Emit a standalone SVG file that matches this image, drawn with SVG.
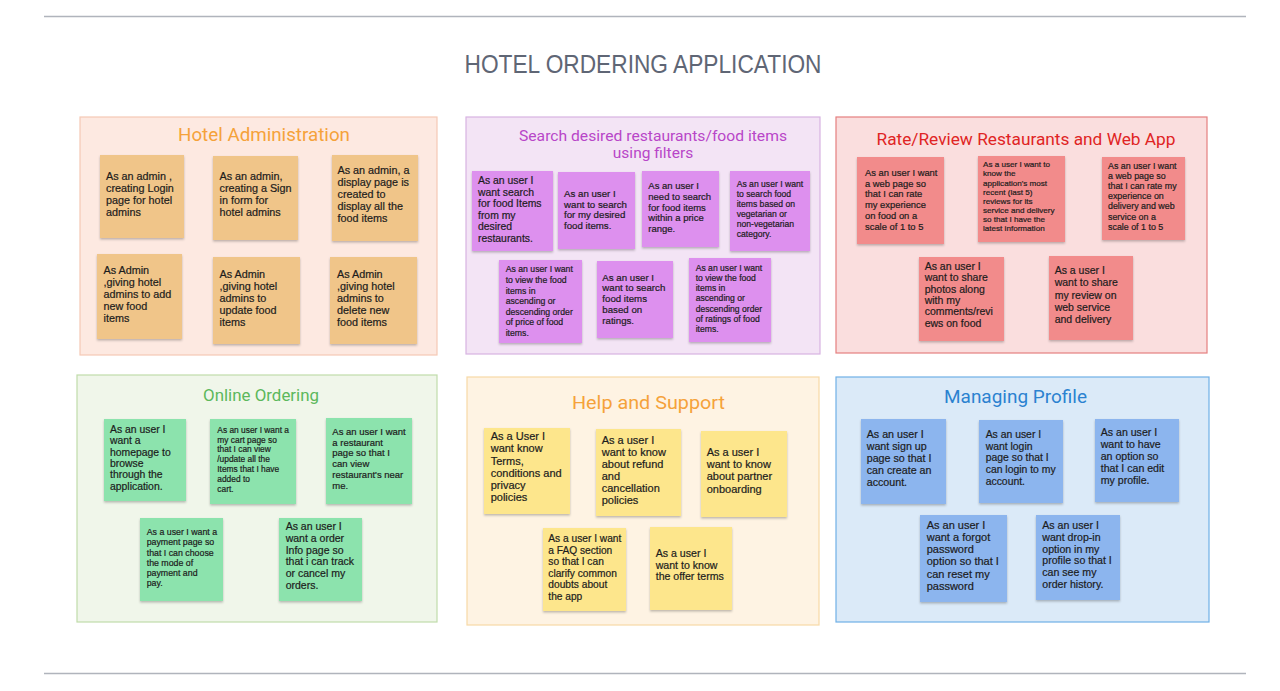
<svg xmlns="http://www.w3.org/2000/svg" width="1280" height="691" viewBox="0 0 1280 691">
<defs>
<filter id="sh" x="-10%" y="-10%" width="120%" height="125%">
<feDropShadow dx="0" dy="1.5" stdDeviation="1" flood-color="#000" flood-opacity="0.25"/>
</filter>
<style>
.pt{font-family:Roboto,"Liberation Sans",sans-serif;text-anchor:middle}
.nt{font-family:"Liberation Sans",Arial,sans-serif;fill:#1c1c1c;stroke:#1c1c1c;stroke-width:0.2}
.n1{fill:#f0c589;filter:url(#sh)}
.n2{fill:#dd90ee;filter:url(#sh)}
.n3{fill:#f28b8b;filter:url(#sh)}
.n4{fill:#8ce3ad;filter:url(#sh)}
.n5{fill:#fde68c;filter:url(#sh)}
.n6{fill:#8cb5ee;filter:url(#sh)}
</style>
</defs>
<rect width="1280" height="691" fill="#ffffff"/>
<line x1="44" y1="16.5" x2="1246" y2="16.5" stroke="#b0b4bc" stroke-width="1.5"/>
<line x1="44" y1="673.5" x2="1246" y2="673.5" stroke="#b0b4bc" stroke-width="1.5"/>
<text x="643" y="73" font-family="'Liberation Sans',Arial,sans-serif" font-size="25" fill="#5f6675" text-anchor="middle" textLength="357" lengthAdjust="spacingAndGlyphs">HOTEL ORDERING APPLICATION</text>

<!-- Panel 1 -->
<g id="panel-hotel-admin">
<rect x="80" y="117" width="357" height="238" fill="#fde9e1" stroke="#f5c9b5" stroke-width="1.2"/>
<text class="pt" x="264" y="141" font-size="17.5" fill="#f5a23a" textLength="172" lengthAdjust="spacingAndGlyphs">Hotel Administration</text>
</g>
<g id="ha-1"><rect class="n1" x="100" y="155" width="84" height="83"/>
<text class="nt" font-size="10.8"><tspan x="106" y="180">As an admin ,</tspan><tspan x="106" dy="12">creating Login</tspan><tspan x="106" dy="12">page for hotel</tspan><tspan x="106" dy="12">admins</tspan></text></g>
<g id="ha-2"><rect class="n1" x="213" y="156" width="85" height="84"/>
<text class="nt" font-size="10.8"><tspan x="219.5" y="180">As an admin,</tspan><tspan x="219.5" dy="12">creating a Sign</tspan><tspan x="219.5" dy="12">in form for</tspan><tspan x="219.5" dy="12">hotel admins</tspan></text></g>
<g id="ha-3"><rect class="n1" x="332" y="155" width="86" height="86"/>
<text class="nt" font-size="10.8"><tspan x="337.5" y="174">As an admin, a</tspan><tspan x="337.5" dy="12">display page is</tspan><tspan x="337.5" dy="12">created to</tspan><tspan x="337.5" dy="12">display all the</tspan><tspan x="337.5" dy="12">food items</tspan></text></g>
<g id="ha-4"><rect class="n1" x="97" y="254" width="85" height="85"/>
<text class="nt" font-size="10.8"><tspan x="103.5" y="273.5">As Admin</tspan><tspan x="103.5" dy="12">,giving hotel</tspan><tspan x="103.5" dy="12">admins to add</tspan><tspan x="103.5" dy="12">new food</tspan><tspan x="103.5" dy="12">items</tspan></text></g>
<g id="ha-5"><rect class="n1" x="213" y="257" width="87" height="87"/>
<text class="nt" font-size="10.8"><tspan x="219.5" y="277.5">As Admin</tspan><tspan x="219.5" dy="12">,giving hotel</tspan><tspan x="219.5" dy="12">admins to</tspan><tspan x="219.5" dy="12">update  food</tspan><tspan x="219.5" dy="12">items</tspan></text></g>
<g id="ha-6"><rect class="n1" x="330" y="257" width="87" height="87"/>
<text class="nt" font-size="10.8"><tspan x="337" y="277.5">As Admin</tspan><tspan x="337" dy="12">,giving hotel</tspan><tspan x="337" dy="12">admins to</tspan><tspan x="337" dy="12">delete new</tspan><tspan x="337" dy="12">food items</tspan></text></g>

<!-- Panel 2 -->
<g id="panel-search">
<rect x="466" y="117" width="354" height="237" fill="#f3e4f5" stroke="#d8b3e2" stroke-width="1.2"/>
<text class="pt" font-size="15.5" fill="#b846c8"><tspan x="653" y="141" textLength="268" lengthAdjust="spacingAndGlyphs">Search desired restaurants/food items</tspan><tspan x="653" y="158">using filters</tspan></text>
</g>
<g id="sr-1"><rect class="n2" x="472" y="171" width="81" height="80"/>
<text class="nt" font-size="10.4"><tspan x="478" y="184">As an user I</tspan><tspan x="478" dy="11.5">want search</tspan><tspan x="478" dy="11.5">for food Items</tspan><tspan x="478" dy="11.5">from my</tspan><tspan x="478" dy="11.5">desired</tspan><tspan x="478" dy="11.5">restaurants.</tspan></text></g>
<g id="sr-2"><rect class="n2" x="558" y="172" width="77" height="77"/>
<text class="nt" font-size="9.7"><tspan x="564" y="196.7">As an user I</tspan><tspan x="564" dy="10.8">want to search</tspan><tspan x="564" dy="10.8">for my desired</tspan><tspan x="564" dy="10.8">food items.</tspan></text></g>
<g id="sr-3"><rect class="n2" x="642" y="171" width="77" height="76"/>
<text class="nt" font-size="9.5"><tspan x="648.3" y="189">As an user I</tspan><tspan x="648.3" dy="10.8">need to search</tspan><tspan x="648.3" dy="10.8">for food items</tspan><tspan x="648.3" dy="10.8">within a price</tspan><tspan x="648.3" dy="10.8">range.</tspan></text></g>
<g id="sr-4"><rect class="n2" x="730" y="171" width="80" height="80"/>
<text class="nt" font-size="8.6"><tspan x="736.7" y="187.3">As an user I want</tspan><tspan x="736.7" dy="10">to search food</tspan><tspan x="736.7" dy="10">items based on</tspan><tspan x="736.7" dy="10">vegetarian or</tspan><tspan x="736.7" dy="10">non-vegetarian</tspan><tspan x="736.7" dy="10">category.</tspan></text></g>
<g id="sr-5"><rect class="n2" x="499" y="260" width="83" height="83"/>
<text class="nt" font-size="8.7"><tspan x="505.7" y="272.3">As an user I want</tspan><tspan x="505.7" dy="10.6">to view the food</tspan><tspan x="505.7" dy="10.6">items in</tspan><tspan x="505.7" dy="10.6">ascending or</tspan><tspan x="505.7" dy="10.6">descending order</tspan><tspan x="505.7" dy="10.6">of price of food</tspan><tspan x="505.7" dy="10.6">items.</tspan></text></g>
<g id="sr-6"><rect class="n2" x="597" y="261" width="76" height="77"/>
<text class="nt" font-size="9.7"><tspan x="602.3" y="280.7">As an user I</tspan><tspan x="602.3" dy="10.7">want to search</tspan><tspan x="602.3" dy="10.7">food items</tspan><tspan x="602.3" dy="10.7">based on</tspan><tspan x="602.3" dy="10.7">ratings.</tspan></text></g>
<g id="sr-7"><rect class="n2" x="689" y="258" width="82" height="84"/>
<text class="nt" font-size="8.6"><tspan x="695.7" y="270.7">As an user I want</tspan><tspan x="695.7" dy="10.2">to view the food</tspan><tspan x="695.7" dy="10.2">items in</tspan><tspan x="695.7" dy="10.2">ascending or</tspan><tspan x="695.7" dy="10.2">descending order</tspan><tspan x="695.7" dy="10.2">of ratings of food</tspan><tspan x="695.7" dy="10.2">items.</tspan></text></g>

<!-- Panel 3 -->
<g id="panel-rate-review">
<rect x="836" y="117" width="371" height="236" fill="#fadede" stroke="#e57f7f" stroke-width="1.2"/>
<text class="pt" x="1026" y="145" font-size="16.5" fill="#e02424" textLength="299" lengthAdjust="spacingAndGlyphs">Rate/Review Restaurants and Web App</text>
</g>
<g id="rr-1"><rect class="n3" x="857" y="157" width="87" height="87"/>
<text class="nt" font-size="9.4"><tspan x="865" y="175.7">As an user I want</tspan><tspan x="865" dy="10.8">a web page so</tspan><tspan x="865" dy="10.8">that I can rate</tspan><tspan x="865" dy="10.8">my experience</tspan><tspan x="865" dy="10.8">on food on a</tspan><tspan x="865" dy="10.8">scale of 1 to 5</tspan></text></g>
<g id="rr-2"><rect class="n3" x="978" y="156" width="87" height="86"/>
<text class="nt" font-size="8.1"><tspan x="983" y="167.3">As a user I want to</tspan><tspan x="983" dy="9.1">know the</tspan><tspan x="983" dy="9.1">application's most</tspan><tspan x="983" dy="9.1">recent (last 5)</tspan><tspan x="983" dy="9.1">reviews for its</tspan><tspan x="983" dy="9.1">service and delivery</tspan><tspan x="983" dy="9.1">so that I have the</tspan><tspan x="983" dy="9.1">latest information</tspan></text></g>
<g id="rr-3"><rect class="n3" x="1102" y="157" width="83" height="83"/>
<text class="nt" font-size="8.9"><tspan x="1108" y="169">As an user I want</tspan><tspan x="1108" dy="10.1">a web page so</tspan><tspan x="1108" dy="10.1">that I can rate my</tspan><tspan x="1108" dy="10.1">experience on</tspan><tspan x="1108" dy="10.1">delivery and web</tspan><tspan x="1108" dy="10.1">service on a</tspan><tspan x="1108" dy="10.1">scale of 1 to 5</tspan></text></g>
<g id="rr-4"><rect class="n3" x="919" y="257" width="85" height="84"/>
<text class="nt" font-size="10.5"><tspan x="924.7" y="270">As an user I</tspan><tspan x="924.7" dy="11.3">want to share</tspan><tspan x="924.7" dy="11.3">photos along</tspan><tspan x="924.7" dy="11.3">with my</tspan><tspan x="924.7" dy="11.3">comments/revi</tspan><tspan x="924.7" dy="11.3">ews on food</tspan></text></g>
<g id="rr-5"><rect class="n3" x="1049" y="256" width="84" height="84"/>
<text class="nt" font-size="10.5"><tspan x="1054.7" y="274">As a user I</tspan><tspan x="1054.7" dy="12.3">want to share</tspan><tspan x="1054.7" dy="12.3">my review on</tspan><tspan x="1054.7" dy="12.3">web service</tspan><tspan x="1054.7" dy="12.3">and delivery</tspan></text></g>

<!-- Panel 4 -->
<g id="panel-online-ordering">
<rect x="77" y="375" width="360" height="247" fill="#f0f6ea" stroke="#c0dcaa" stroke-width="1.2"/>
<text class="pt" x="261" y="401" font-size="17" fill="#5cb85c" textLength="116" lengthAdjust="spacingAndGlyphs">Online Ordering</text>
</g>
<g id="oo-1"><rect class="n4" x="104" y="419" width="82" height="82"/>
<text class="nt" font-size="10.4"><tspan x="110" y="432.7">As an user I</tspan><tspan x="110" dy="11.4">want a</tspan><tspan x="110" dy="11.4">homepage to</tspan><tspan x="110" dy="11.4">browse</tspan><tspan x="110" dy="11.4">through the</tspan><tspan x="110" dy="11.4">application.</tspan></text></g>
<g id="oo-2"><rect class="n4" x="210" y="419" width="86" height="85"/>
<text class="nt" font-size="8.4"><tspan x="217.3" y="432.7">As an user I want a</tspan><tspan x="217.3" dy="9.8">my cart page so</tspan><tspan x="217.3" dy="9.8">that I can view</tspan><tspan x="217.3" dy="9.8">/update all the</tspan><tspan x="217.3" dy="9.8">Items that I have</tspan><tspan x="217.3" dy="9.8">added to</tspan><tspan x="217.3" dy="9.8">cart.</tspan></text></g>
<g id="oo-3"><rect class="n4" x="326" y="418" width="86" height="86"/>
<text class="nt" font-size="9.5"><tspan x="332.3" y="434.7">As an user I want</tspan><tspan x="332.3" dy="10.8">a restaurant</tspan><tspan x="332.3" dy="10.8">page so that I</tspan><tspan x="332.3" dy="10.8">can view</tspan><tspan x="332.3" dy="10.8">restaurant's near</tspan><tspan x="332.3" dy="10.8">me.</tspan></text></g>
<g id="oo-4"><rect class="n4" x="140" y="518" width="83" height="83"/>
<text class="nt" font-size="8.8"><tspan x="146.7" y="535.3">As a user I want a</tspan><tspan x="146.7" dy="10.1">payment page so</tspan><tspan x="146.7" dy="10.1">that I can choose</tspan><tspan x="146.7" dy="10.1">the mode of</tspan><tspan x="146.7" dy="10.1">payment and</tspan><tspan x="146.7" dy="10.1">pay.</tspan></text></g>
<g id="oo-5"><rect class="n4" x="279" y="518" width="83" height="83"/>
<text class="nt" font-size="10.5"><tspan x="285.7" y="530.3">As an user I</tspan><tspan x="285.7" dy="11.7">want a order</tspan><tspan x="285.7" dy="11.7">Info page so</tspan><tspan x="285.7" dy="11.7">that i can track</tspan><tspan x="285.7" dy="11.7">or cancel my</tspan><tspan x="285.7" dy="11.7">orders.</tspan></text></g>

<!-- Panel 5 -->
<g id="panel-help-support">
<rect x="467" y="377" width="352" height="248" fill="#fef3e3" stroke="#f7d9a6" stroke-width="1.2"/>
<text class="pt" x="648.5" y="409" font-size="18" fill="#f5a23a" textLength="153" lengthAdjust="spacingAndGlyphs">Help and Support</text>
</g>
<g id="hs-1"><rect class="n5" x="484" y="428" width="86" height="86"/>
<text class="nt" font-size="11"><tspan x="490.7" y="440.3">As a User I</tspan><tspan x="490.7" dy="12.1">want know</tspan><tspan x="490.7" dy="12.1">Terms,</tspan><tspan x="490.7" dy="12.1">conditions and</tspan><tspan x="490.7" dy="12.1">privacy</tspan><tspan x="490.7" dy="12.1">policies</tspan></text></g>
<g id="hs-2"><rect class="n5" x="596" y="429" width="85" height="87"/>
<text class="nt" font-size="11"><tspan x="601.7" y="443.7">As a user I</tspan><tspan x="601.7" dy="12.1">want to know</tspan><tspan x="601.7" dy="12.1">about refund</tspan><tspan x="601.7" dy="12.1">and</tspan><tspan x="601.7" dy="12.1">cancellation</tspan><tspan x="601.7" dy="12.1">policies</tspan></text></g>
<g id="hs-3"><rect class="n5" x="701" y="431" width="86" height="86"/>
<text class="nt" font-size="11"><tspan x="706.7" y="456">As a user I</tspan><tspan x="706.7" dy="12.2">want to know</tspan><tspan x="706.7" dy="12.2">about partner</tspan><tspan x="706.7" dy="12.2">onboarding</tspan></text></g>
<g id="hs-4"><rect class="n5" x="543" y="528" width="83" height="83"/>
<text class="nt" font-size="10.2"><tspan x="548.3" y="542">As a user I want</tspan><tspan x="548.3" dy="11.5">a FAQ section</tspan><tspan x="548.3" dy="11.5">so that I can</tspan><tspan x="548.3" dy="11.5">clarify common</tspan><tspan x="548.3" dy="11.5">doubts about</tspan><tspan x="548.3" dy="11.5">the app</tspan></text></g>
<g id="hs-5"><rect class="n5" x="650" y="527" width="82" height="83"/>
<text class="nt" font-size="10.6"><tspan x="655.7" y="557">As a user I</tspan><tspan x="655.7" dy="11.7">want to know</tspan><tspan x="655.7" dy="11.7">the offer terms</tspan></text></g>

<!-- Panel 6 -->
<g id="panel-managing-profile">
<rect x="836" y="377" width="373" height="245" fill="#dbeaf8" stroke="#6fb0e6" stroke-width="1.2"/>
<text class="pt" x="1015.5" y="403" font-size="18" fill="#2b82d0" textLength="143" lengthAdjust="spacingAndGlyphs">Managing Profile</text>
</g>
<g id="mp-1"><rect class="n6" x="861" y="419" width="85" height="85"/>
<text class="nt" font-size="10.7"><tspan x="866.7" y="437.7">As an user I</tspan><tspan x="866.7" dy="12">want sign up</tspan><tspan x="866.7" dy="12">page so that I</tspan><tspan x="866.7" dy="12">can create an</tspan><tspan x="866.7" dy="12">account.</tspan></text></g>
<g id="mp-2"><rect class="n6" x="979" y="420" width="84" height="83"/>
<text class="nt" font-size="10.4"><tspan x="985.7" y="437.7">As an user I</tspan><tspan x="985.7" dy="11.8">want login</tspan><tspan x="985.7" dy="11.8">page so that I</tspan><tspan x="985.7" dy="11.8">can login to my</tspan><tspan x="985.7" dy="11.8">account.</tspan></text></g>
<g id="mp-3"><rect class="n6" x="1095" y="419" width="84" height="83"/>
<text class="nt" font-size="10.6"><tspan x="1100.7" y="436">As an user I</tspan><tspan x="1100.7" dy="12">want to have</tspan><tspan x="1100.7" dy="12">an option so</tspan><tspan x="1100.7" dy="12">that I can edit</tspan><tspan x="1100.7" dy="12">my profile.</tspan></text></g>
<g id="mp-4"><rect class="n6" x="920" y="515" width="87" height="87"/>
<text class="nt" font-size="11"><tspan x="926.7" y="528.7">As an user I</tspan><tspan x="926.7" dy="12.2">want a forgot</tspan><tspan x="926.7" dy="12.2">password</tspan><tspan x="926.7" dy="12.2">option so that I</tspan><tspan x="926.7" dy="12.2">can reset my</tspan><tspan x="926.7" dy="12.2">password</tspan></text></g>
<g id="mp-5"><rect class="n6" x="1036" y="515" width="84" height="85"/>
<text class="nt" font-size="10.6"><tspan x="1042.3" y="528.7">As an user I</tspan><tspan x="1042.3" dy="11.9">want drop-in</tspan><tspan x="1042.3" dy="11.9">option in my</tspan><tspan x="1042.3" dy="11.9">profile so that I</tspan><tspan x="1042.3" dy="11.9">can see my</tspan><tspan x="1042.3" dy="11.9">order history.</tspan></text></g>

<g id="connectors"></g>
</svg>
